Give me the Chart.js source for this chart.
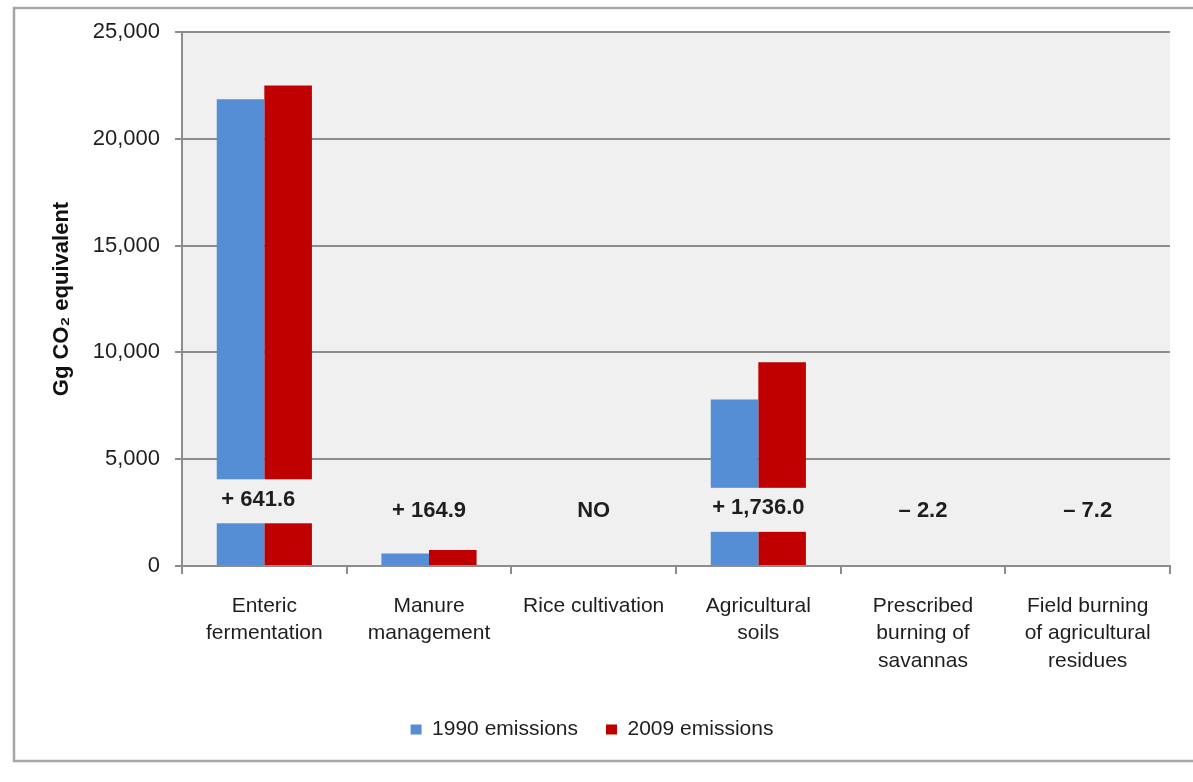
<!DOCTYPE html>
<html>
<head>
<meta charset="utf-8">
<script src="https://cdn.jsdelivr.net/npm/chart.js@4/dist/chart.umd.min.js"></script>
<style>
  html, body { margin: 0; padding: 0; background: #ffffff; }
  #wrap { width: 1193px; height: 782px; position: relative; }
</style>
</head>
<body>
<div id="wrap"><canvas id="c" width="1193" height="782"></canvas></div>
<script>
// Agricultural greenhouse gas emissions by source, Gg CO2 equivalent
const categories = [
  ['Enteric', 'fermentation'],
  ['Manure', 'management'],
  ['Rice cultivation'],
  ['Agricultural', 'soils'],
  ['Prescribed', 'burning of', 'savannas'],
  ['Field burning', 'of agricultural', 'residues']
];
const seriesNames = ['1990 emissions', '2009 emissions'];
const emissions1990 = [21850, 590, 0, 7800, 4.5, 14.6];
const emissions2009 = [22491.6, 754.9, 0, 9536, 2.3, 7.4];
const changeLabels = ['+ 641.6', '+ 164.9', 'NO', '+ 1,736.0', '\u2013 2.2', '\u2013 7.2'];
const yTickLabels = ['0', '5,000', '10,000', '15,000', '20,000', '25,000'];

const FONT = "'Liberation Sans', Arial, Helvetica, sans-serif";
const PLOT_BG = '#f0f0f0';
const GRID = '#8c8c8c';
const TEXT = '#1e1e1e';

// Light grey plot area and the grey frame around the whole figure
const backdrop = {
  id: 'backdrop',
  beforeDraw(chart) {
    const { ctx, chartArea: a } = chart;
    ctx.save();
    ctx.fillStyle = PLOT_BG;
    ctx.fillRect(a.left, a.top, a.right - a.left, a.bottom - a.top);
    ctx.strokeStyle = '#a6a6a6';
    ctx.lineWidth = 2.5;
    ctx.beginPath();
    ctx.moveTo(chart.width + 5, 8);
    ctx.lineTo(14, 8);
    ctx.lineTo(14, 761);
    ctx.lineTo(chart.width + 5, 761);
    ctx.stroke();
    ctx.restore();
  }
};

// Change 1990-2009 written over each group, on a patch of plot colour
const changeTags = {
  id: 'changeTags',
  afterDatasetsDraw(chart, args, opts) {
    const { ctx } = chart;
    const xs = chart.scales.x, ys = chart.scales.y;
    ctx.save();
    ctx.font = 'bold 22px ' + FONT;
    ctx.textAlign = 'center';
    ctx.textBaseline = 'middle';
    changeLabels.forEach((txt, i) => {
      const x = xs.getPixelForValue(i);
      const y = ys.getPixelForValue(opts.levels[i]);
      const w = Math.max(ctx.measureText(txt).width + 16, 110);
      ctx.fillStyle = PLOT_BG;
      ctx.fillRect(x - w / 2, y - 20.5, w, 44);
      ctx.fillStyle = TEXT;
      ctx.fillText(txt, x - (i === 0 ? 6 : 0), y);
    });
    ctx.restore();
  }
};

new Chart(document.getElementById('c'), {
  type: 'bar',
  data: {
    labels: categories,
    datasets: [
      { label: seriesNames[0], data: emissions1990, backgroundColor: '#558ed5', borderWidth: 0 },
      { label: seriesNames[1], data: emissions2009, backgroundColor: '#c00000', borderWidth: 0 }
    ]
  },
  options: {
    responsive: false,
    animation: false,
    devicePixelRatio: 1,
    categoryPercentage: 0.578,
    barPercentage: 1.0,
    layout: { padding: { left: 14, top: 32, right: 23, bottom: 32 } },
    plugins: {
      tooltip: { enabled: false },
      legend: {
        position: 'bottom',
        labels: {
          font: { family: FONT, size: 21 },
          color: TEXT,
          boxWidth: 11,
          boxHeight: 10,
          padding: 28
        }
      },
      changeTags: { levels: [3100, 2600, 2600, 2700, 2600, 2600] }
    },
    scales: {
      x: {
        grid: {
          display: true,
          drawOnChartArea: false,
          drawTicks: true,
          tickLength: 8,
          color: GRID,
          lineWidth: 2,
          offset: true
        },
        border: { display: true, color: GRID, width: 2, z: 1 },
        ticks: {
          font: { family: FONT, size: 21, lineHeight: 1.29 },
          color: TEXT,
          padding: 19,
          maxRotation: 0,
          autoSkip: false
        },
        afterFit(scale) { scale.height = 125; }
      },
      y: {
        min: 0,
        max: 25000,
        grid: {
          color: GRID,
          lineWidth: 2,
          drawTicks: true,
          tickLength: 7
        },
        border: { display: true, color: GRID, width: 2 },
        ticks: {
          stepSize: 5000,
          font: { family: FONT, size: 22 },
          color: TEXT,
          padding: 15,
          callback: (v) => yTickLabels[Math.round(v / 5000)]
        },
        title: {
          display: true,
          text: 'Gg CO\u2082 equivalent',
          font: { family: FONT, size: 22, weight: 'bold' },
          color: '#111111',
          padding: { top: 35, bottom: 0 }
        },
        afterFit(scale) { scale.width = 168; }
      }
    }
  },
  plugins: [backdrop, changeTags]
});
</script>
</body>
</html>
